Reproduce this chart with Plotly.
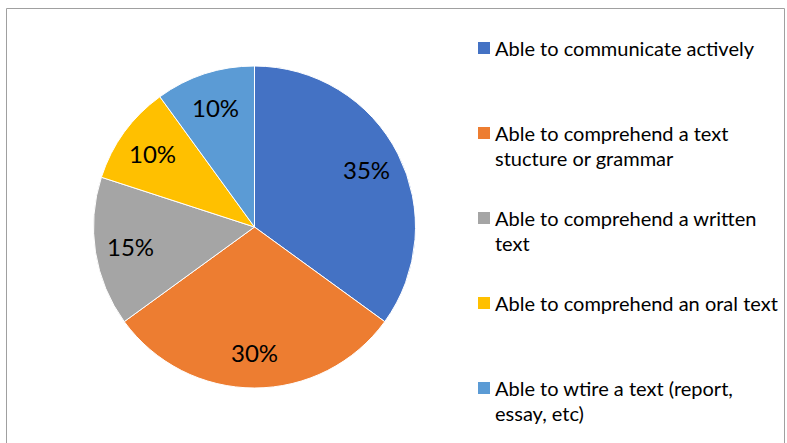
import math
import plotly.graph_objects as go

# Survey results: share of respondents per skill
labels = [
    "Able to communicate actively",
    "Able to comprehend a text stucture or grammar",
    "Able to comprehend a written text",
    "Able to comprehend an oral text",
    "Able to wtire a text (report, essay, etc)",
]
values = [35, 30, 15, 10, 10]
colors = ["#4472C4", "#ED7D31", "#A5A5A5", "#FFC000", "#5B9BD5"]

# Legend text as it wraps in the legend column
legend_lines = [
    ["Able to communicate actively"],
    ["Able to comprehend a text", "stucture or grammar"],
    ["Able to comprehend a written", "text"],
    ["Able to comprehend an oral text"],
    ["Able to wtire a text (report,", "essay, etc)"],
]

W, H = 787, 443
FONT = "Lato"

# Pie geometry in pixels
cx, cy, r = 254.5, 227.0, 161.0


def px(x):
    return x / W


def py(y):
    return 1 - y / H


fig = go.Figure()
fig.add_trace(
    go.Pie(
        labels=labels,
        values=values,
        sort=False,
        direction="clockwise",
        rotation=0,
        marker=dict(colors=colors, line=dict(color="white", width=1)),
        textinfo="none",
        hoverinfo="label+percent",
        showlegend=False,
        domain=dict(x=[px(cx - r), px(cx + r)], y=[py(cy + r), py(cy - r)]),
    )
)

annotations = []
shapes = []

# Percentage labels placed at each slice's mid-angle
total = sum(values)
cum = 0.0
for v in values:
    mid = (cum + v / 2) / total * 2 * math.pi
    cum += v
    lx = cx + 0.78 * r * math.sin(mid)
    ly = cy - 0.78 * r * math.cos(mid)
    annotations.append(
        dict(
            x=px(lx), y=py(ly), xref="paper", yref="paper",
            text=f"{round(v / total * 100)}%", showarrow=False,
            font=dict(family=FONT, size=24, color="#000000"),
            xanchor="center", yanchor="middle",
        )
    )

# Legend column on the right
leg_x, leg_y0, leg_step, line_gap = 493, 48, 85, 25
for i, (lines, col) in enumerate(zip(legend_lines, colors)):
    y0 = leg_y0 + i * leg_step
    shapes.append(
        dict(
            type="rect", xref="paper", yref="paper",
            x0=px(478), x1=px(490), y0=py(y0 - 6), y1=py(y0 + 6),
            fillcolor=col, line=dict(width=0),
        )
    )
    for j, line in enumerate(lines):
        annotations.append(
            dict(
                x=px(leg_x), y=py(y0 + j * line_gap), xref="paper", yref="paper",
                text=line, showarrow=False,
                font=dict(family=FONT, size=20, color="#000000"),
                xanchor="left", yanchor="middle",
            )
        )

# Chart frame
shapes.append(
    dict(
        type="rect", xref="paper", yref="paper",
        x0=px(6.5), x1=px(784.5), y0=py(460), y1=py(8.5),
        line=dict(color="#A0A0A0", width=1), fillcolor="rgba(0,0,0,0)",
    )
)

fig.update_layout(
    width=W, height=H,
    margin=dict(l=0, r=0, t=0, b=0),
    paper_bgcolor="white", plot_bgcolor="white",
    annotations=annotations, shapes=shapes,
    font=dict(family=FONT),
)

fig.write_html("out.html")
